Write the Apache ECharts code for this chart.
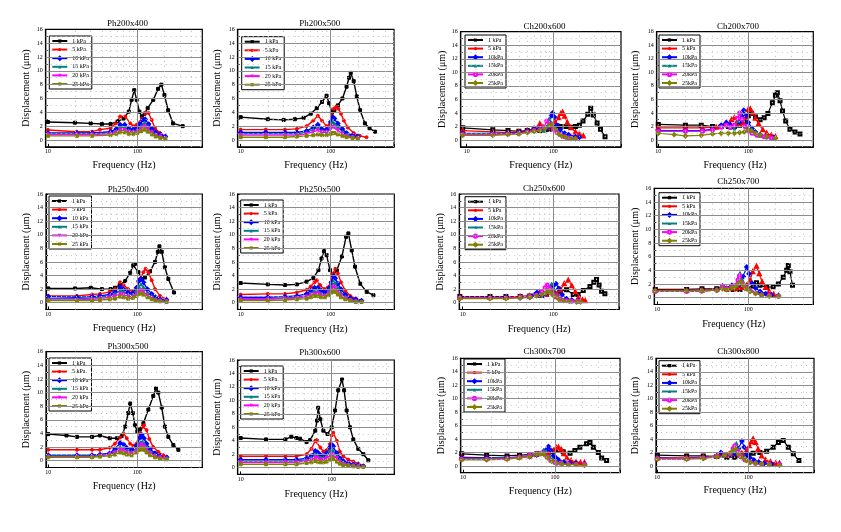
<!DOCTYPE html>
<html><head><meta charset="utf-8">
<script src="https://cdn.jsdelivr.net/npm/echarts@6/dist/echarts.min.js"></script>
<style>html,body{margin:0;padding:0;background:#fff}#c{width:841px;height:532px}</style>
</head><body><div id="c"></div><script>
// ---------- labels ----------
const panelTitles = ['Ph200x400','Ph200x500','Ch200x600','Ch200x700','Ph250x400','Ph250x500','Ch250x600','Ch250x700','Ph300x500','Ph300x600','Ch300x700','Ch300x800'];
const namesPh = ['1 kPa','5 kPa','10 kPa','15 kPa','20 kPa','25 kPa'];
const namesCh = ['1 kPa','5 kPa','10kPa','15kPa','20kPa','25kPa'];
const xAxisTitle = 'Frequency (Hz)';
const yAxisTitle = 'Displacement (\u03bcm)';
const yTickLabels = [0,2,4,6,8,10,12,14,16];
const yMajorGrid = [0,2,4,6,8,10,12,14];
const yMinorGrid = [1,3,5,7,9,11,13,15];
const xMajorGrid = [100];
const xMinorGrid = [20,30,40,50,60,70,80,90,200,300,400,500];

// ---------- data: [frequency Hz, displacement um] ----------
const ph200x400_1 = [[10,2.6],[20,2.5],[30,2.4],[40,2.3],[50,2.3],[60,2.7],[70,3.1],[80,4.1],[86,5.8],[92,7.2],[98,5.8],[105,4.1],[112,3.4],[120,3.8],[130,4.6],[150,5.8],[170,7.4],[185,8.0],[200,6.5],[220,4.3],[250,2.4],[320,2.0]];
const ph200x400_5 = [[10,1.45],[21,1.2],[31,1.2],[38,1.5],[50,1.7],[57,2.4],[64,3.4],[73,3.4],[83,2.4],[90,2.0],[98,2.2],[112,3.1],[122,3.9],[133,3.9],[144,2.9],[157,1.7],[179,1.0],[206,0.5]];
const ph200x400_10 = [[10,1.0],[21,1.0],[31,1.0],[50,1.2],[58,1.6],[64,2.2],[72,2.2],[80,1.7],[90,1.5],[98,1.7],[107,2.3],[115,2.9],[122,3.0],[133,2.3],[145,1.6],[160,1.1],[180,0.8],[205,0.5]];
const ph200x400_15 = [[10,0.9],[21,0.9],[31,0.9],[50,1.0],[58,1.3],[64,1.8],[72,1.8],[80,1.4],[90,1.3],[100,1.5],[110,2.0],[120,2.5],[130,2.0],[145,1.3],[160,0.9],[180,0.6],[205,0.3]];
const ph200x400_20 = [[10,0.8],[21,0.8],[31,0.8],[50,0.9],[58,1.1],[64,1.4],[72,1.4],[80,1.2],[90,1.1],[100,1.3],[110,1.7],[120,2.0],[130,1.6],[145,1.1],[160,0.7],[180,0.5],[205,0.3]];
const ph200x400_25 = [[10,0.6],[21,0.6],[31,0.6],[50,0.7],[58,0.9],[64,1.1],[72,1.1],[80,0.9],[90,0.9],[100,1.0],[110,1.3],[120,1.5],[130,1.2],[145,0.8],[160,0.5],[180,0.3],[205,0.2]];

const ph200x500_1 = [[10,3.3],[20,3.0],[30,2.9],[40,3.0],[50,3.2],[60,3.8],[70,4.6],[80,5.5],[90,6.4],[96,5.3],[103,4.0],[110,4.3],[120,5.0],[135,6.0],[150,7.7],[160,9.0],[167,9.7],[180,8.5],[195,6.3],[212,4.3],[240,2.4],[270,1.7],[310,1.2]];
const ph200x500_5 = [[10,1.5],[19,1.5],[31,1.5],[42,1.6],[54,2.0],[64,2.8],[72,3.5],[80,2.8],[90,2.0],[97,2.2],[103,3.6],[108,4.5],[115,4.8],[122,4.5],[130,3.8],[140,2.8],[155,1.8],[180,1.0],[210,0.6],[250,0.4]];
const ph200x500_10 = [[10,1.1],[19,1.1],[31,1.1],[42,1.1],[54,1.3],[64,1.8],[72,2.2],[80,1.6],[90,1.5],[100,2.6],[105,3.3],[110,3.1],[120,2.4],[135,1.6],[150,1.0],[175,0.7],[200,0.5]];
const ph200x500_15 = [[10,0.9],[19,0.9],[31,0.9],[42,0.9],[54,1.1],[64,1.5],[72,1.8],[80,1.3],[90,1.3],[100,2.1],[105,2.6],[110,2.4],[120,1.9],[135,1.2],[150,0.8],[175,0.5],[200,0.4]];
const ph200x500_20 = [[10,0.7],[19,0.7],[31,0.7],[42,0.7],[54,0.9],[64,1.2],[72,1.4],[80,1.1],[90,1.1],[100,1.6],[105,1.9],[110,1.8],[120,1.4],[135,0.9],[150,0.6],[175,0.4],[200,0.3]];
const ph200x500_25 = [[10,0.4],[19,0.4],[31,0.4],[42,0.5],[54,0.6],[64,0.7],[72,0.8],[80,0.7],[90,0.7],[100,0.9],[105,1.0],[110,1.0],[120,0.8],[135,0.6],[150,0.4],[175,0.3],[200,0.2]];

const ch200x600_1 = [[9,1.8],[20,1.5],[30,1.4],[40,1.3],[50,1.4],[60,1.5],[70,1.4],[80,1.5],[90,1.6],[100,2.0],[110,2.1],[120,2.0],[140,2.0],[160,1.9],[180,2.0],[200,2.2],[220,2.8],[250,3.8],[270,4.7],[290,3.7],[320,2.5],[350,1.6],[395,0.5]];
const ch200x600_5 = [[9,1.4],[20,1.2],[30,1.1],[40,1.2],[50,1.4],[60,1.7],[70,2.4],[76,1.9],[85,1.8],[95,2.1],[105,2.6],[115,3.3],[122,3.9],[128,4.1],[135,3.5],[145,2.6],[160,1.8],[180,1.2],[200,0.9],[222,0.6]];
const ch200x600_10 = [[9,1.0],[20,1.0],[30,1.0],[40,1.1],[50,1.3],[60,1.6],[70,1.8],[78,1.5],[85,1.8],[90,2.6],[95,3.6],[98,4.0],[103,3.4],[110,2.2],[120,1.5],[135,1.0],[150,0.8],[180,0.5],[200,0.4]];
const ch200x600_15 = [[9,0.9],[20,0.9],[30,0.9],[40,1.0],[50,1.2],[60,1.5],[70,1.7],[78,1.4],[85,2.0],[90,3.2],[95,2.6],[100,2.0],[110,1.3],[120,0.9],[135,0.6],[150,0.4],[180,0.3]];
const ch200x600_20 = [[9,0.8],[20,0.8],[30,0.9],[40,1.0],[50,1.2],[60,1.4],[70,1.5],[78,1.9],[84,2.8],[90,2.4],[100,1.6],[110,1.1],[120,0.8],[135,0.5],[150,0.3],[180,0.2]];
const ch200x600_25 = [[9,0.7],[20,0.7],[30,0.8],[40,0.9],[50,1.1],[60,1.3],[70,1.4],[80,1.7],[90,2.2],[97,2.3],[105,1.6],[115,0.9],[125,0.6],[140,0.4],[160,0.2],[180,0.2]];

const ch200x700_1 = [[10,2.3],[20,2.2],[30,2.2],[40,2.0],[50,2.0],[60,2.0],[70,2.0],[80,2.2],[90,2.6],[100,3.6],[108,3.9],[120,3.4],[135,3.0],[150,3.3],[165,3.9],[185,5.5],[200,6.6],[210,7.0],[225,5.8],[240,4.3],[260,2.8],[290,1.6],[330,1.2],[375,0.9]];
const ch200x700_5 = [[10,1.8],[20,1.8],[31,1.8],[44,1.9],[57,2.5],[65,3.0],[70,3.3],[76,2.8],[80,2.4],[88,2.6],[95,3.5],[100,4.5],[105,4.6],[112,4.0],[120,3.2],[130,2.4],[145,1.5],[160,1.0],[180,0.7],[200,0.5]];
const ch200x700_10 = [[10,1.4],[20,1.4],[31,1.4],[40,1.6],[50,2.2],[57,2.6],[63,2.3],[70,2.0],[80,2.6],[85,3.5],[89,4.4],[94,3.6],[100,2.6],[110,1.7],[120,1.2],[135,0.8],[160,0.5],[190,0.4]];
const ch200x700_15 = [[10,1.3],[20,1.3],[31,1.3],[40,1.5],[50,2.0],[57,2.2],[63,1.8],[70,1.7],[77,2.8],[82,3.9],[87,3.0],[95,1.9],[105,1.3],[120,0.9],[135,0.6],[160,0.4],[190,0.3]];
const ch200x700_20 = [[10,1.3],[20,1.3],[31,1.3],[40,1.5],[50,1.9],[57,2.2],[63,1.9],[70,2.2],[76,3.2],[80,4.0],[85,3.1],[92,2.0],[100,1.4],[110,1.0],[125,0.7],[150,0.5],[180,0.3]];
const ch200x700_25 = [[10,1.0],[15,0.8],[20,0.6],[30,0.7],[40,0.9],[50,1.0],[60,1.0],[70,1.0],[80,1.1],[90,1.2],[100,1.5],[108,1.4],[120,1.0],[135,0.7],[160,0.5],[200,0.3]];

const ph250x400_1 = [[10,2.1],[20,2.1],[30,2.2],[40,2.0],[50,2.0],[56,2.2],[64,2.6],[73,3.2],[83,4.4],[90,5.5],[94,5.7],[103,4.5],[112,3.5],[122,3.7],[139,4.6],[158,6.0],[170,7.5],[177,8.3],[188,7.5],[204,5.2],[223,3.5],[258,1.5]];
const ph250x400_5 = [[10,1.0],[21,1.0],[31,1.2],[38,1.3],[49,1.6],[56,2.0],[64,3.0],[70,2.6],[79,2.0],[89,1.6],[98,2.0],[107,3.5],[117,4.5],[124,5.0],[133,4.5],[145,3.3],[158,2.0],[180,1.0],[213,0.5]];
const ph250x400_10 = [[10,0.9],[21,0.8],[31,0.9],[38,1.0],[49,1.2],[56,1.6],[64,2.3],[70,2.0],[79,1.5],[89,1.4],[98,2.2],[104,3.2],[110,3.5],[117,3.0],[130,2.0],[145,1.3],[160,0.8],[180,0.5],[213,0.4]];
const ph250x400_15 = [[10,0.6],[21,0.6],[31,0.7],[38,0.8],[49,1.0],[56,1.3],[64,1.8],[70,1.6],[79,1.2],[89,1.2],[98,1.8],[104,2.4],[110,2.7],[117,2.3],[130,1.5],[145,1.0],[160,0.6],[180,0.4],[213,0.3]];
const ph250x400_20 = [[10,0.4],[21,0.4],[31,0.5],[38,0.6],[49,0.8],[56,1.0],[64,1.3],[70,1.2],[79,0.9],[89,0.9],[98,1.3],[104,1.7],[110,1.9],[117,1.6],[130,1.1],[145,0.7],[160,0.4],[180,0.3],[213,0.2]];
const ph250x400_25 = [[10,0.3],[21,0.3],[31,0.3],[38,0.4],[49,0.5],[56,0.6],[64,0.9],[70,0.8],[79,0.6],[89,0.7],[98,1.0],[104,1.3],[110,1.4],[117,1.2],[130,0.8],[145,0.5],[160,0.3],[180,0.2],[213,0.1]];

const ph250x500_1 = [[10,2.9],[20,2.7],[31,2.6],[42,2.7],[54,3.1],[64,3.6],[73,4.8],[79,6.5],[84,7.6],[90,7.0],[98,4.8],[107,4.1],[117,4.8],[133,6.8],[148,9.7],[157,10.2],[171,7.7],[186,5.3],[212,2.8],[251,1.6],[298,1.1]];
const ph250x500_5 = [[10,1.2],[20,1.3],[31,1.3],[42,1.5],[54,1.9],[60,2.4],[66,3.0],[70,3.3],[76,2.6],[84,2.0],[92,2.2],[100,3.0],[106,4.3],[112,5.0],[120,4.3],[130,3.0],[145,1.8],[165,1.0],[190,0.6],[220,0.3]];
const ph250x500_10 = [[10,0.8],[20,0.8],[31,0.9],[42,1.0],[54,1.3],[60,1.8],[66,2.2],[72,2.2],[78,1.8],[86,1.5],[95,2.1],[102,3.0],[107,3.9],[112,3.6],[120,2.8],[130,2.0],[145,1.2],[165,0.7],[190,0.5],[220,0.3]];
const ph250x500_15 = [[10,0.6],[20,0.6],[31,0.7],[42,0.8],[54,1.0],[60,1.4],[66,1.7],[72,1.7],[78,1.4],[86,1.2],[95,1.7],[102,2.4],[107,3.1],[112,2.9],[120,2.2],[130,1.5],[145,0.9],[165,0.5],[190,0.3],[220,0.2]];
const ph250x500_20 = [[10,0.5],[20,0.5],[31,0.6],[42,0.7],[54,0.9],[60,1.1],[66,1.3],[72,1.4],[78,1.1],[86,1.0],[95,1.4],[102,1.9],[107,2.4],[112,2.2],[120,1.7],[130,1.1],[145,0.7],[165,0.4],[190,0.2],[220,0.1]];
const ph250x500_25 = [[10,0.3],[20,0.3],[31,0.4],[42,0.5],[54,0.6],[60,0.8],[66,1.0],[72,1.0],[78,0.8],[86,0.8],[95,1.1],[102,1.5],[107,1.8],[112,1.6],[120,1.2],[130,0.8],[145,0.5],[165,0.3],[190,0.1],[220,0.1]];

const ch250x600_1 = [[9.3,0.9],[20,0.9],[30,0.9],[43,0.9],[55,1.0],[71,1.1],[84,1.2],[100,1.3],[118,1.7],[140,1.9],[166,1.2],[189,1.2],[214,1.8],[254,2.4],[280,3.0],[300,3.4],[320,2.6],[341,1.7],[371,1.3]];
const ch250x600_5 = [[9.3,0.8],[20,0.8],[30,0.8],[43,0.9],[55,1.0],[65,1.3],[71,1.6],[78,1.3],[84,1.2],[92,1.5],[100,1.7],[110,1.3],[120,1.9],[132,2.8],[146,3.3],[160,2.5],[175,1.6],[190,0.8],[210,0.4],[225,0.3]];
const ch250x600_10 = [[9.3,0.7],[20,0.7],[30,0.8],[43,0.7],[55,0.8],[62,1.2],[66,1.5],[71,1.3],[78,1.1],[84,1.4],[92,2.0],[100,2.5],[107,2.8],[115,2.1],[125,1.2],[140,0.6],[160,0.4],[190,0.3]];
const ch250x600_15 = [[9.3,0.7],[20,0.7],[30,0.7],[43,0.8],[55,0.9],[65,1.1],[75,1.4],[85,1.7],[92,2.4],[96,2.8],[102,2.0],[110,1.2],[120,0.7],[140,0.4],[160,0.3],[190,0.2]];
const ch250x600_20 = [[9.3,0.7],[20,0.7],[30,0.7],[43,0.8],[55,0.9],[65,1.1],[75,1.6],[81,2.2],[86,2.6],[92,2.0],[100,1.2],[110,0.8],[120,0.5],[140,0.3],[160,0.2],[190,0.2]];
const ch250x600_25 = [[9.3,0.6],[20,0.6],[30,0.6],[43,0.7],[55,0.8],[65,1.0],[75,1.2],[82,1.4],[88,1.7],[95,1.4],[103,0.9],[115,0.5],[130,0.3],[150,0.2],[180,0.1],[200,0.1]];

const ch250x700_1 = [[9.5,1.2],[21,1.2],[31,1.3],[45,1.3],[58,1.3],[68,1.2],[81,1.2],[96,1.4],[113,1.7],[123,2.2],[134,1.8],[159,1.5],[188,1.6],[214,2.0],[242,3.0],[264,4.0],[275,4.7],[287,3.8],[306,1.8]];
const ch250x700_5 = [[9.5,1.1],[21,1.1],[31,1.1],[45,1.2],[52,1.6],[58,1.2],[66,1.7],[72,1.3],[80,1.5],[88,1.5],[96,1.8],[105,2.6],[112,3.8],[123,4.6],[132,3.5],[142,2.3],[155,1.5],[170,0.9],[190,0.5],[215,0.3]];
const ch250x700_10 = [[9.5,1.0],[21,1.0],[31,1.0],[45,1.1],[52,1.7],[58,1.4],[66,1.8],[72,1.6],[80,1.9],[88,3.1],[96,4.5],[102,3.5],[110,2.1],[120,1.4],[135,0.9],[155,0.6],[180,0.4],[215,0.3]];
const ch250x700_15 = [[9.5,1.0],[21,1.0],[31,1.0],[45,1.1],[52,1.8],[58,1.4],[66,1.7],[72,1.8],[78,2.9],[81,3.6],[86,2.6],[94,1.8],[105,1.2],[120,0.8],[140,0.5],[170,0.3],[215,0.2]];
const ch250x700_20 = [[9.5,0.9],[21,0.9],[31,1.0],[45,1.1],[52,1.6],[58,1.3],[66,1.6],[72,1.8],[77,2.6],[80,3.2],[85,2.2],[94,1.5],[105,1.0],[120,0.7],[140,0.4],[170,0.3],[215,0.2]];
const ch250x700_25 = [[9.5,1.0],[21,1.0],[31,1.0],[45,1.1],[52,1.3],[58,1.2],[66,1.4],[72,1.6],[78,2.0],[82,2.4],[88,1.8],[96,1.3],[105,0.9],[120,0.6],[140,0.4],[170,0.2],[215,0.2]];

const ph300x500_1 = [[10,3.9],[16,3.7],[21,3.5],[31,3.5],[38,3.7],[49,3.3],[59,3.3],[67,3.6],[73,5.0],[79,7.0],[83,8.4],[89,7.0],[94,5.2],[100,4.3],[107,4.6],[117,5.5],[133,7.5],[151,9.5],[162,10.6],[172,10.0],[188,7.8],[204,5.0],[223,3.5],[254,2.3],[289,1.6]];
const ph300x500_5 = [[10,1.6],[21,1.6],[31,1.6],[38,1.6],[49,1.9],[56,2.5],[64,3.4],[70,4.0],[76,3.3],[83,2.5],[90,2.2],[98,2.5],[107,4.0],[115,5.0],[119,5.2],[127,4.5],[136,3.2],[151,2.0],[172,1.3],[196,0.8],[214,0.5]];
const ph300x500_10 = [[10,0.8],[21,0.8],[31,0.8],[38,0.9],[49,1.1],[56,1.7],[64,2.6],[70,2.4],[76,1.9],[86,1.6],[98,2.2],[107,3.4],[112,3.8],[119,3.3],[127,2.5],[139,1.7],[158,1.1],[180,0.7],[214,0.5]];
const ph300x500_15 = [[10,0.7],[21,0.7],[31,0.7],[38,0.8],[49,1.0],[56,1.4],[64,2.0],[70,1.9],[76,1.5],[86,1.3],[98,1.8],[107,2.6],[112,2.9],[119,2.6],[127,2.0],[139,1.4],[158,0.9],[180,0.6],[214,0.4]];
const ph300x500_20 = [[10,0.6],[21,0.6],[31,0.6],[38,0.7],[49,0.9],[56,1.2],[64,1.6],[70,1.5],[76,1.2],[86,1.1],[98,1.5],[107,2.1],[112,2.4],[119,2.1],[127,1.6],[139,1.1],[158,0.7],[180,0.5],[214,0.3]];
const ph300x500_25 = [[10,0.5],[21,0.5],[31,0.5],[38,0.6],[49,0.7],[56,0.9],[64,1.2],[70,1.1],[76,0.9],[86,0.8],[98,1.2],[107,1.6],[112,1.9],[119,1.6],[127,1.2],[139,0.8],[158,0.5],[180,0.3],[214,0.2]];

const ph300x600_1 = [[10,4.4],[19,4.2],[31,4.2],[36,4.6],[41,4.4],[45,4.3],[53,3.8],[58,4.1],[66,5.5],[69,7.0],[71,8.9],[75,7.2],[81,5.5],[90,5.0],[100,6.0],[109,8.5],[118,11.5],[130,13.1],[137,11.5],[146,8.5],[159,6.0],[173,4.2],[196,2.8],[223,2.0],[253,1.1]];
const ph300x600_5 = [[10,1.7],[19,1.7],[31,1.7],[41,1.7],[53,2.0],[60,2.8],[66,4.0],[69,4.1],[75,3.0],[81,2.4],[88,2.6],[96,3.5],[100,4.8],[104,5.2],[114,4.0],[123,2.4],[134,1.7],[152,1.2],[173,0.9],[196,0.6],[223,0.3]];
const ph300x600_10 = [[10,1.2],[19,1.2],[31,1.2],[41,1.2],[53,1.4],[60,1.8],[66,2.5],[70,2.3],[75,1.9],[81,1.8],[88,2.2],[96,3.0],[100,3.4],[104,3.2],[114,2.2],[123,1.4],[134,1.0],[152,0.7],[173,0.5],[196,0.4],[223,0.2]];
const ph300x600_15 = [[10,1.0],[19,1.0],[31,1.0],[41,1.0],[53,1.2],[60,1.5],[66,2.0],[70,1.8],[75,1.5],[81,1.5],[88,1.8],[96,2.5],[100,2.7],[104,2.5],[114,1.8],[123,1.2],[134,0.8],[152,0.6],[173,0.4],[196,0.3],[223,0.2]];
const ph300x600_20 = [[10,0.8],[19,0.8],[31,0.8],[41,0.8],[53,1.0],[60,1.2],[66,1.5],[70,1.4],[75,1.2],[81,1.2],[88,1.4],[96,1.8],[100,2.0],[104,1.8],[114,1.4],[123,0.9],[134,0.6],[152,0.4],[173,0.3],[196,0.2],[223,0.1]];
const ph300x600_25 = [[10,0.5],[19,0.5],[31,0.5],[41,0.5],[53,0.7],[60,0.8],[66,1.0],[70,0.9],[75,0.8],[81,0.8],[88,0.9],[96,1.2],[100,1.4],[104,1.3],[114,0.9],[123,0.6],[134,0.4],[152,0.3],[173,0.2],[196,0.1],[223,0.1]];

const ch300x700_1 = [[9.6,1.8],[18,1.6],[30,1.5],[41,1.6],[53,1.7],[63,1.8],[75,1.9],[85,2.0],[96,2.2],[109,2.3],[123,2.1],[146,1.9],[165,2.3],[187,2.8],[221,3.3],[241,3.5],[262,2.8],[297,2.0],[323,1.2],[366,0.8]];
const ch300x700_5 = [[9.6,1.3],[18,1.2],[30,1.2],[41,1.3],[53,1.5],[63,1.7],[75,1.9],[85,2.0],[96,2.3],[103,2.7],[109,2.8],[117,2.5],[125,1.8],[135,1.2],[150,0.8],[170,0.6],[190,0.5],[210,0.5]];
const ch300x700_10 = [[9.6,1.2],[18,1.2],[30,1.2],[41,1.3],[53,1.4],[63,1.6],[75,1.9],[80,2.4],[85,2.9],[90,2.3],[96,1.5],[103,1.2],[110,0.9],[125,0.6],[145,0.5],[170,0.4],[210,0.3]];
const ch300x700_15 = [[9.6,1.1],[18,1.1],[30,1.2],[41,1.3],[53,1.6],[63,1.8],[70,2.0],[75,2.4],[80,2.2],[88,1.4],[96,0.9],[105,0.6],[120,0.4],[140,0.3],[170,0.3],[210,0.2]];
const ch300x700_20 = [[9.6,1.0],[18,1.0],[30,1.1],[41,1.3],[53,1.6],[63,1.8],[70,1.9],[75,1.9],[82,1.3],[90,0.8],[100,0.5],[115,0.4],[140,0.3],[170,0.2],[210,0.2]];
const ch300x700_25 = [[9.6,0.9],[18,0.9],[30,1.0],[41,1.2],[53,1.4],[63,1.7],[70,1.8],[76,1.7],[83,1.2],[92,0.7],[105,0.4],[120,0.3],[140,0.2],[170,0.2],[210,0.1]];

const ch300x800_1 = [[10,1.6],[21,1.5],[32,1.5],[45,1.4],[58,1.3],[71,1.3],[85,1.4],[100,1.6],[113,1.9],[134,2.0],[159,2.2],[188,2.8],[214,3.5],[242,3.8],[275,2.8],[312,1.8],[360,0.8]];
const ch300x800_5 = [[10,1.2],[21,1.2],[32,1.3],[45,1.5],[50,1.8],[58,1.6],[71,1.8],[85,1.9],[95,2.2],[103,3.0],[108,3.6],[113,4.0],[120,3.5],[128,2.5],[140,1.5],[155,0.9],[175,0.6],[200,0.4],[220,0.4]];
const ch300x800_10 = [[10,1.2],[21,1.1],[32,1.2],[45,1.5],[50,2.0],[55,1.6],[63,1.7],[71,1.8],[78,2.6],[85,3.7],[90,2.8],[96,1.8],[105,1.2],[115,0.9],[130,0.6],[150,0.4],[180,0.3],[220,0.3]];
const ch300x800_15 = [[10,1.1],[21,1.1],[32,1.2],[45,1.4],[55,1.6],[63,1.8],[70,2.6],[74,3.4],[78,2.6],[85,1.6],[95,1.0],[105,0.7],[120,0.5],[140,0.4],[170,0.3],[220,0.2]];
const ch300x800_20 = [[10,1.1],[21,1.1],[32,1.2],[45,1.5],[55,1.7],[63,1.9],[68,2.6],[71,3.0],[76,2.2],[82,1.4],[92,0.9],[105,0.6],[120,0.4],[140,0.3],[170,0.2],[220,0.2]];
const ch300x800_25 = [[10,1.0],[21,1.0],[32,1.1],[45,1.4],[55,1.6],[63,1.9],[68,2.3],[72,2.6],[78,1.8],[85,1.2],[95,0.8],[105,0.5],[120,0.4],[140,0.3],[170,0.2],[220,0.1]];

const panelSeries = [
  [ph200x400_1,ph200x400_5,ph200x400_10,ph200x400_15,ph200x400_20,ph200x400_25],
  [ph200x500_1,ph200x500_5,ph200x500_10,ph200x500_15,ph200x500_20,ph200x500_25],
  [ch200x600_1,ch200x600_5,ch200x600_10,ch200x600_15,ch200x600_20,ch200x600_25],
  [ch200x700_1,ch200x700_5,ch200x700_10,ch200x700_15,ch200x700_20,ch200x700_25],
  [ph250x400_1,ph250x400_5,ph250x400_10,ph250x400_15,ph250x400_20,ph250x400_25],
  [ph250x500_1,ph250x500_5,ph250x500_10,ph250x500_15,ph250x500_20,ph250x500_25],
  [ch250x600_1,ch250x600_5,ch250x600_10,ch250x600_15,ch250x600_20,ch250x600_25],
  [ch250x700_1,ch250x700_5,ch250x700_10,ch250x700_15,ch250x700_20,ch250x700_25],
  [ph300x500_1,ph300x500_5,ph300x500_10,ph300x500_15,ph300x500_20,ph300x500_25],
  [ph300x600_1,ph300x600_5,ph300x600_10,ph300x600_15,ph300x600_20,ph300x600_25],
  [ch300x700_1,ch300x700_5,ch300x700_10,ch300x700_15,ch300x700_20,ch300x700_25],
  [ch300x800_1,ch300x800_5,ch300x800_10,ch300x800_15,ch300x800_20,ch300x800_25]
];

// ---------- layout & style ----------
const layout = [
 {l:45.7,t:29.3,w:156.6,h:117.6,xmin:9.43,xmax:530,tx:122.5,ty:19,xny:165,ynx:26,ll:49.3,lt:36},
 {l:237.7,t:29.3,w:156.3,h:117.6,xmin:9.26,xmax:505,tx:314.7,ty:19.3,xny:165,ynx:217.3,ll:241.7,lt:36.7},
 {l:460.7,t:31.7,w:160.3,h:115.1,xmin:8.53,xmax:604,tx:539.5,ty:21.7,xny:165,ynx:444,ll:465,lt:35},
 {l:656.7,t:31.7,w:156.6,h:115.1,xmin:9.6,xmax:527,tx:733,ty:22.3,xny:165,ynx:635,ll:659,lt:35},
 {l:46,t:194,w:156.3,h:115.5,xmin:9.42,xmax:537,tx:123.3,ty:185,xny:328.3,ynx:26.7,ll:49,lt:196},
 {l:237.7,t:194,w:156.6,h:115.5,xmin:9.26,xmax:508,tx:314.7,ty:185,xny:329.3,ynx:217.3,ll:240.7,lt:200},
 {l:459.3,t:194,w:159.7,h:115.5,xmin:9.17,xmax:531,tx:539,ty:184,xny:329.3,ynx:440,ll:465,lt:196.7},
 {l:654.3,t:188.3,w:159,h:116.2,xmin:9.27,xmax:518,tx:733.3,ty:177.3,xny:324,ynx:635,ll:659,lt:192.7},
 {l:46,t:351.7,w:156.3,h:115.8,xmin:9.42,xmax:537,tx:123,ty:341.7,xny:486.7,ynx:26.7,ll:49,lt:358},
 {l:237.7,t:360,w:156.6,h:114.4,xmin:9.27,xmax:488,tx:314.7,ty:348.3,xny:494,ynx:217.3,ll:240.7,lt:366},
 {l:460.7,t:358.3,w:159.3,h:114.4,xmin:9.37,xmax:512,tx:539.5,ty:346.7,xny:491.7,ynx:441.7,ll:464,lt:359},
 {l:656,t:358.3,w:158,h:114.4,xmin:9.67,xmax:527,tx:733.3,ty:346.7,xny:490.7,ynx:635,ll:659,lt:360.7}
];
const FONT = "'Liberation Serif','DejaVu Serif',serif";
const colors = ['#000000','#ff0000','#0000ff','#008080','#ff00ff','#808000'];
const symPh = ['rect','circle','emptyDiamond','triangle','triangle','rect'];
const symRotPh = [0,0,0,0,180,0];
const symCh = ['emptyRect','emptyTriangle','emptyDiamond','triangle','emptyCircle','emptyDiamond'];

const grids=[], xAxes=[], yAxes=[], titles=[], legends=[], series=[];
layout.forEach((L,gi)=>{
  const isCh = panelTitles[gi].startsWith('Ch');
  const names = isCh ? namesCh : namesPh;
  grids.push({left:L.l, top:L.t, width:L.w, height:L.h, show:true, borderColor:'#000', borderWidth:1.2, backgroundColor:'transparent', containLabel:false});
  xAxes.push({gridIndex:gi, type:'log', logBase:10, min:L.xmin, max:L.xmax,
    axisLine:{show:true, onZero:false, lineStyle:{color:'#000', width:1.2}},
    axisTick:{show:true, inside:true, length:3, lineStyle:{color:'#000'}},
    axisLabel:{fontSize:6, margin:2, color:'#000', fontFamily:FONT,
      formatter:v=>{const lg=Math.log10(v); const r=Math.round(lg); return (Math.abs(lg-r)<1e-6 && r>=1 && r<=2)? String(Math.round(Math.pow(10,r))):'';}},
    splitLine:{show:false},
    name:xAxisTitle, nameLocation:'middle', nameGap:L.xny-(L.t+L.h)-5,
    nameTextStyle:{fontSize:10, fontFamily:FONT, color:'#000'}});
  yAxes.push({gridIndex:gi, type:'value', min:-1, max:16, interval:1,
    axisLine:{show:true, onZero:false, lineStyle:{color:'#000', width:1.2}},
    axisTick:{show:true, inside:true, length:2, lineStyle:{color:'#000'}},
    axisLabel:{fontSize:6, margin:3, color:'#000', fontFamily:FONT,
      formatter:v=> yTickLabels.indexOf(Math.round(v))>=0 && Math.abs(v-Math.round(v))<1e-6 ? String(Math.round(v)) : ''},
    splitLine:{show:false},
    name:yAxisTitle, nameLocation:'middle', nameGap:L.l-L.ynx-5,
    nameTextStyle:{fontSize:10, fontFamily:FONT, color:'#000'}});
  titles.push({text:panelTitles[gi], left:L.tx, top:L.ty-5, textAlign:'center',
    textStyle:{fontSize:9, fontWeight:'normal', fontFamily:FONT, color:'#000'}});
  legends.push({data:names.slice(), orient:'vertical', left:L.ll, top:L.lt,
    itemWidth:15, itemHeight:4, itemGap:1.6, padding:[1.5,3,1.5,2], selectedMode:false,
    borderColor:'#000', borderWidth:1, backgroundColor:'#fff',
    textStyle:{fontSize:6, fontFamily:FONT, color:'#000', lineHeight:7}});
  // grid lines
  const xmin=L.xmin, xmax=L.xmax;
  const ml = [];
  yMajorGrid.forEach(v=>ml.push({yAxis:v, lineStyle:{color:'#8c8c8c', width:1, type:'solid'}}));
  yMinorGrid.forEach(v=>ml.push({yAxis:v, lineStyle:{color:'#c0c0c0', width:1, type:[1,4]}}));
  xMajorGrid.forEach(v=>{ if(v>xmin && v<xmax) ml.push({xAxis:v, lineStyle:{color:'#8c8c8c', width:1, type:'solid'}}); });
  xMinorGrid.forEach(v=>{ if(v>xmin && v<xmax) ml.push({xAxis:v, lineStyle:{color:'#c0c0c0', width:1, type:[1,4]}}); });
  series.push({type:'line', xAxisIndex:gi, yAxisIndex:gi, data:[], silent:true, z:1, animation:false,
    markLine:{silent:true, symbol:['none','none'], label:{show:false}, animation:false, emphasis:{disabled:true}, data:ml}});
  panelSeries[gi].forEach((d,k)=>{
    series.push({type:'line', name:names[k], xAxisIndex:gi, yAxisIndex:gi, data:d, z:3, animation:false,
      symbol: isCh? symCh[k] : symPh[k], symbolRotate: isCh?0:symRotPh[k], symbolSize:3, showSymbol:true,
      lineStyle:{color:colors[k], width: isCh?1.2:1.4}, itemStyle:{color:colors[k], borderColor:colors[k]},
      emphasis:{disabled:true}});
  });
});

const chart = echarts.init(document.getElementById('c'), null, {renderer:'canvas'});
chart.setOption({animation:false, backgroundColor:'#fff', title:titles, legend:legends, grid:grids, xAxis:xAxes, yAxis:yAxes, series:series, tooltip:{show:false}});
</script></body></html>
